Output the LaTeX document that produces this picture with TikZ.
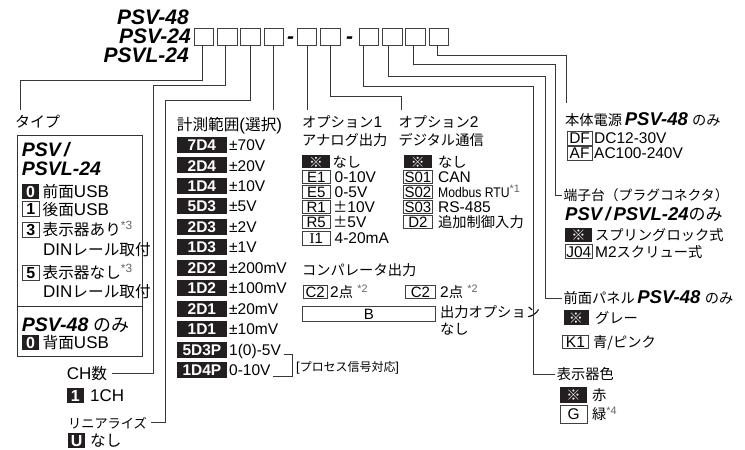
\documentclass[tikz,border=0pt]{standalone}
\usepackage{fontspec}
\usepackage{graphicx}
\setmainfont{Liberation Sans}
\newfontfamily\jp[Scale=0.92]{Noto Sans CJK JP}
\newfontfamily\serifI{Liberation Serif}
\usetikzlibrary{calc}
\definecolor{ink}{HTML}{231F20}
\newcommand\J[1]{{\jp\mdseries\upshape #1}}
\newcommand\sr[1]{\textsuperscript{\color{black!60}*#1}}
\newcommand\fsz[1]{\fontsize{#1}{#1}\selectfont}
\begin{document}
\begin{tikzpicture}[x=1pt,y=-1pt,
  ln/.style={draw=black!78,line width=0.85pt},
  hbox/.style={draw=black!75,line width=0.9pt,fill=white,minimum width=19.5pt,minimum height=16.7pt,inner sep=0pt},
  hdr/.style={font=\fsz{21}\bfseries\itshape,inner sep=0pt,text depth=0pt},
  bi/.style={inner sep=0pt,anchor=base west,font=\fsz{19.5}\bfseries\itshape},
  bir/.style={inner sep=0pt,anchor=base west,font=\fsz{18.5}\bfseries\itshape},
  txt/.style={anchor=west,inner sep=0pt,text depth=0pt},
  tA/.style={txt,font=\fsz{17},text height=12.2pt},
  tB/.style={txt,font=\fsz{15.5},text height=11.1pt},
  kb/.style={anchor=west,inner sep=0pt,fill=ink,text=white,text depth=0pt},
  kw/.style={anchor=west,inner sep=0pt,draw=black!75,line width=0.8pt,fill=white,text depth=0pt},
  kA/.style={font=\fsz{16}\bfseries,text height=11.5pt,minimum width=17.5pt,minimum height=15pt},
  kR/.style={font=\fsz{15.5}\bfseries,text height=11.1pt,minimum width=50pt,minimum height=16pt},
  kO/.style={font=\fsz{15},text height=10.7pt,minimum width=28.3pt,minimum height=13.3pt},
  kP/.style={font=\fsz{15.5},text height=11.1pt,minimum width=26.7pt,minimum height=13.5pt},
]
\useasboundingbox (0,0) rectangle (745,450);
\fill[white] (0,0) rectangle (745,450);

% ---------- header ----------
\node[hdr,anchor=base east] (h48) at (189,24) {PSV-48};
\node[hdr,anchor=base east] (h24) at (191,43) {PSV-24};
\node[hdr,anchor=base east] (hl24) at (189,62) {PSVL-24};
\foreach \n/\x in {1/204,2/227.3,3/250.6,4/273.9,5/307,6/330.3,7/369,8/392.3,9/415.6,10/438.9}
  \node[hbox] (b\n) at (\x,36.7) {};
\node[hdr,anchor=base] (d1) at (290.5,43) {-};
\node[hdr,anchor=base] (d2) at (349.5,43) {-};

% ---------- left: type ----------
\node[tA,font=\fsz{16.3}] (typ) at (15,121.7) {\J{タイプ}};
\node[draw=black!80,line width=0.9pt,anchor=north west,minimum width=125pt,minimum height=221pt,inner sep=0pt] (tbox) at (16.7,135) {};
\draw[draw=black!80,line width=0.9pt] (16.7,306.7) -- (141.7,306.7);
\node[bi] (tp1) at (21.7,156.7) {PSV\,/};
\node[bi] (tp2) at (21.7,175) {PSVL-24};
\node[kb,kA] (t0) at (21.7,191.7) {0};
\node[tA] (t0t) at (42.5,191.7) {\J{前面}USB};
\node[kw,kA] (t1) at (21.7,209.2) {1};
\node[tA] (t1t) at (42.5,209.2) {\J{後面}USB};
\node[kw,kA] (t3) at (21.7,229.5) {3};
\node[tA] (t3t) at (42.5,229.5) {\J{表示器あり}\sr{3}};
\node[tA] (t3d) at (43,249.5) {DIN\J{レール取付}};
\node[kw,kA] (t5) at (21.7,272.5) {5};
\node[tA] (t5t) at (42.5,272.5) {\J{表示器なし}\sr{3}};
\node[tA] (t5d) at (43,291.5) {DIN\J{レール取付}};
\node[bi] (tp3) at (21.7,331) {PSV-48 \J{のみ}};
\node[kb,kA] (t6) at (21.7,342.5) {0};
\node[tA] (t6t) at (42.5,342.5) {\J{背面}USB};

% ---------- CH / linearize ----------
\node[tA] (ch) at (66.7,373.3) {CH\J{数}};
\node[kb,kA,minimum width=16.6pt] (c1) at (66.7,395.5) {1};
\node[tA] (c1t) at (90,395.5) {1CH};
\node[tA,font=\fsz{14.3}] (lin) at (68,422) {\J{リニアライズ}};
\node[kb,kA,minimum width=17pt] (u1) at (68,440.5) {U};
\node[tA] (u1t) at (90,440.5) {\J{なし}};

% ---------- range ----------
\node[tA] (rng) at (176.7,124) {\J{計測範囲}(\J{選択})};
\foreach \c/\v [count=\i from 0] in {7D4/{±70V},2D4/{±20V},1D4/{±10V},5D3/{±5V},2D3/{±2V},1D3/{±1V},2D2/{±200mV},1D2/{±100mV},2D1/{±20mV},1D1/{±10mV},5D3P/{1(0)-5V},1D4P/{0-10V}}{
  \node[kb,kR] (r\i) at (176.7,{145+20.45*\i}) {\c};
  \node[tB] (rt\i) at (229,{145+20.45*\i}) {\v};
}
\coordinate (brx) at (292.7,360);
\coordinate (bA) at ([xshift=2.5pt,yshift=-5pt]rt10.east);
\coordinate (bB) at ([xshift=2pt,yshift=-6.5pt]rt11.east);
\draw[ln] (bA) -- (bA -| brx) -- (bB -| brx) -- (bB);
\node[tB,font=\fsz{13}] (proc) at (296,366) {[\J{プロセス信号対応}]};

% ---------- option 1 ----------
\node[tB] (op1) at (302,122) {\J{オプション}1};
\node[tB] (op1b) at (302,140) {\J{アナログ出力}};
\node[kb,kO] (o0) at (301.7,161.7) {\J{※}};
\node[tB] (o0t) at (332.5,161.7) {\J{なし}};
\node[kw,kO] (o1) at (301.7,176.7) {E1};
\node[tB] (o1t) at (334.5,176.7) {0-10V};
\node[kw,kO] (o2) at (301.7,191.7) {E5};
\node[tB] (o2t) at (334.5,191.7) {0-5V};
\node[kw,kO] (o3) at (301.7,206.7) {R1};
\node[tB] (o3t) at (333,206.7) {\J{±}10V};
\node[kw,kO] (o4) at (301.7,221.7) {R5};
\node[tB] (o4t) at (333,221.7) {\J{±}5V};
\node[kw,kO] (o5) at (301.7,238.3) {{\serifI I}1};
\node[tB] (o5t) at (334.5,238.3) {4-20mA};
\node[tB] (cmp) at (302,270) {\J{コンパレータ出力}};
\node[kw,kO,minimum width=24.5pt] (cp1) at (302.5,292) {C2};
\node[tB] (cp1t) at (330,292) {2\J{点} \sr{2}};
\node[kw,kO,minimum width=30pt] (cp2) at (405,292) {C2};
\node[tB] (cp2t) at (440,292) {2\J{点} \sr{2}};
\node[kw,kO,minimum width=133pt,minimum height=15pt] (bb) at (302,314.2) {B};
\node[tB] (bbt) at (440,311.7) {\J{出力オプション}};
\node[tB] (bbt2) at (440,329) {\J{なし}};

% ---------- option 2 ----------
\node[tB] (op2) at (398.3,122) {\J{オプション}2};
\node[tB] (op2b) at (398.3,140) {\J{デジタル通信}};
\node[kb,kO] (s0) at (403.3,161.7) {\J{※}};
\node[tB] (s0t) at (438,161.7) {\J{なし}};
\node[kw,kO] (s1) at (403.3,176.7) {S01};
\node[tB] (s1t) at (438,176.7) {CAN};
\node[kw,kO] (s2) at (403.3,191.7) {S02};
\node[tB] (s2t) at (438,191.7) {\scalebox{0.87}[1]{\fsz{14}Modbus RTU}\sr{1}};
\node[kw,kO] (s3) at (403.3,206.7) {S03};
\node[tB] (s3t) at (438,206.7) {RS-485};
\node[kw,kO] (s4) at (403.3,221.7) {D2};
\node[tB] (s4t) at (438,221.7) {\J{追加制御入力}};

% ---------- right column ----------
\node[tB] (pow) at (565,120) {\J{本体電源}\,{\fsz{18.5}\bfseries\itshape PSV-48} \J{のみ}};
\node[kw,kP,minimum width=25pt] (p1) at (566.7,138.3) {DF};
\node[tB] (p1t) at (594,138.3) {DC12-30V};
\node[kw,kP,minimum width=25pt] (p2) at (566.7,153.3) {AF};
\node[tB] (p2t) at (594,153.3) {AC100-240V};
\node[tB,font=\fsz{15}] (term) at (563.3,195) {\J{端子台（プラグコネクタ）}};
\node[bir] (termb) at (565,220.5) {PSV\,/\,PSVL-24\J{のみ}};
\node[kb,kP] (j0) at (565,235) {\J{※}};
\node[tB] (j0t) at (595,235) {\J{スプリングロック式}};
\node[kw,kP] (j1) at (565,251.5) {J04};
\node[tB] (j1t) at (595,251.5) {M2\J{スクリュー式}};
\node[tB] (pan) at (563.3,298.3) {\J{前面パネル}\,{\fsz{18.5}\bfseries\itshape PSV-48} \J{のみ}};
\node[kb,kP,minimum width=25pt,minimum height=15pt] (k0) at (563.3,317.5) {\J{※}};
\node[tB] (k0t) at (595,317.5) {\J{グレー}};
\node[kw,kP] (k1) at (561.7,341.7) {K1};
\node[tB] (k1t) at (593,341.7) {\J{青/ピンク}};
\node[tB] (col) at (556.7,374) {\J{表示器色}};
\node[kb,kP,minimum height=16.6pt] (g0) at (560,395) {\J{※}};
\node[tB] (g0t) at (592,395) {\J{赤}};
\node[kw,kP,minimum height=18pt] (g1) at (560,414) {G};
\node[tB] (g1t) at (592,414) {\J{緑}\sr{4}};

% ---------- connectors ----------
\coordinate (e1) at (20.7,110);
\coordinate (k2) at (153.3,85);
\coordinate (k3) at (165,100);
\coordinate (k6) at (401.7,96.7);
\coordinate (k7) at (533.3,86);
\coordinate (k8) at (545,76.5);
\coordinate (k9) at (555,64.5);
\coordinate (k10) at (566.7,55);
\draw[ln] ([xshift=-2pt]b1.south) |- (e1 |- 0,80) -- (e1);
\draw[ln] ([xshift=-2pt]b2.south) |- (k2) |- ([xshift=5pt]ch.east);
\draw[ln] (b3.south) |- (k3) |- ([xshift=4pt]lin.east);
\draw[ln] (b4.south) -- (b4.south |- 0,110);
\draw[ln] (b5.south) -- (b5.south |- 0,110);
\draw[ln] (b6.south) |- (k6) -- (k6 |- 0,110);
\draw[ln] ([xshift=-6pt]b7.south) |- (k7) |- ([xshift=-2pt]col.west);
\draw[ln] ([xshift=-4pt]b8.south) |- (k8) |- ([xshift=-1pt]pan.west);
\draw[ln] ([xshift=-2pt]b9.south) |- (k9) |- ([xshift=-1pt]term.west);
\draw[ln] ([xshift=-1pt]b10.south) |- (k10) -- (k10 |- 0,103.3);
\end{tikzpicture}
\end{document}
